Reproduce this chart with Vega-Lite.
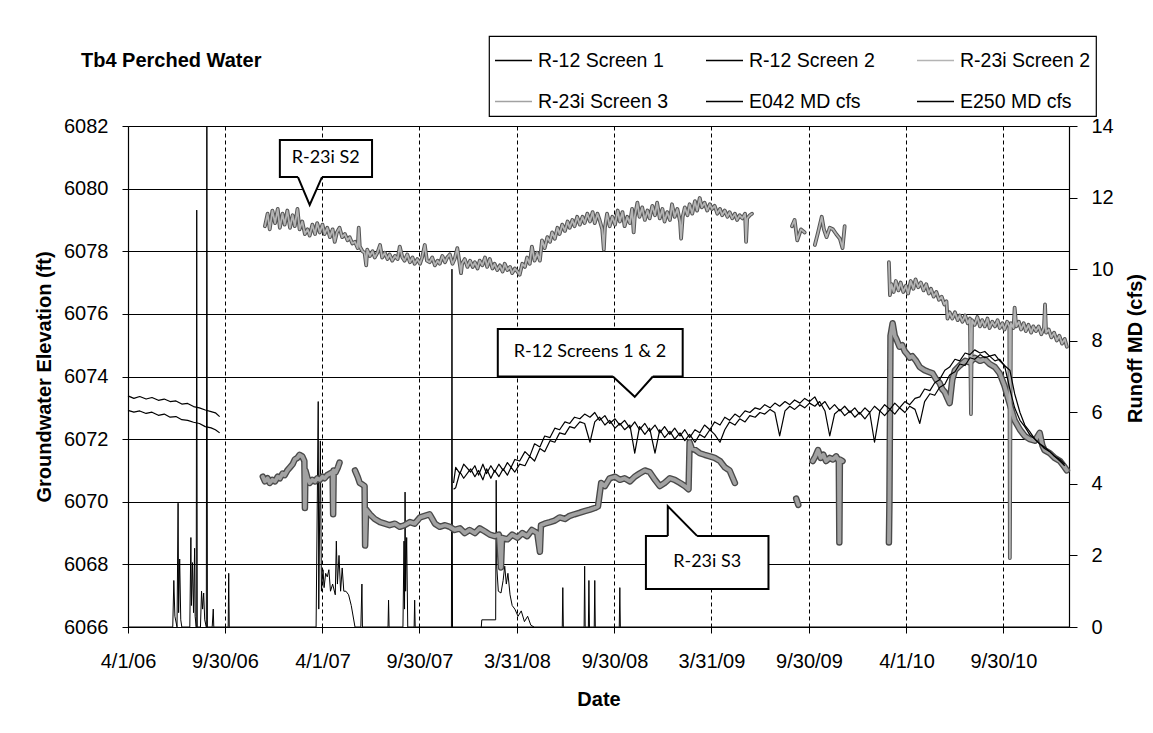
{
"$schema": "https://vega.github.io/schema/vega-lite/v6.json",
"width": 941,
"height": 501,
"autosize": {"type": "none"},
"padding": {"left": 128, "top": 126, "right": 84, "bottom": 106},
"background": "white",
"title": {"text": "Tb4 Perched  Water", "anchor": "start", "frame": "group", "dx": -47, "dy": 40, "font": "Liberation Sans", "fontSize": 20, "fontWeight": "bold", "color": "black"},
"config": {
  "view": {"stroke": null},
  "font": "Liberation Sans",
  "axis": {"labelFont": "Liberation Sans", "labelFontSize": 20, "labelColor": "black", "titleFont": "Liberation Sans", "titleFontSize": 20, "titleFontWeight": "bold", "titleColor": "black", "tickColor": "black", "tickWidth": 1, "domainColor": "black", "domainWidth": 1.2, "gridColor": "black", "gridOpacity": 1, "gridWidth": 1},
  "legend": {"labelFont": "Liberation Sans", "labelFontSize": 19.5, "labelColor": "black", "symbolType": "stroke", "symbolSize": 1369, "symbolStrokeWidth": 1.5, "columnPadding": 34, "rowPadding": 12, "padding": 5, "strokeColor": "black", "strokeWidth": 1.2, "fillColor": "white", "gridAlign": "all", "labelOffset": 5}
},
"datasets": {
"ro": [
{"series":"E042 MD cfs","date":"2006-04-01","v":0},
{"series":"E042 MD cfs","date":"2006-06-24","v":0},
{"series":"E042 MD cfs","date":"2006-06-26","v":1.3},
{"series":"E042 MD cfs","date":"2006-06-28","v":0.3},
{"series":"E042 MD cfs","date":"2006-07-02","v":0},
{"series":"E042 MD cfs","date":"2006-07-04","v":3.46},
{"series":"E042 MD cfs","date":"2006-07-05","v":0.4},
{"series":"E042 MD cfs","date":"2006-07-07","v":1.9},
{"series":"E042 MD cfs","date":"2006-07-09","v":0.2},
{"series":"E042 MD cfs","date":"2006-07-11","v":0},
{"series":"E042 MD cfs","date":"2006-07-26","v":0},
{"series":"E042 MD cfs","date":"2006-07-28","v":2.5},
{"series":"E042 MD cfs","date":"2006-07-29","v":0.6},
{"series":"E042 MD cfs","date":"2006-07-31","v":1.8},
{"series":"E042 MD cfs","date":"2006-08-02","v":0.4},
{"series":"E042 MD cfs","date":"2006-08-04","v":2.2},
{"series":"E042 MD cfs","date":"2006-08-05","v":0.3},
{"series":"E042 MD cfs","date":"2006-08-07","v":0},
{"series":"E042 MD cfs","date":"2006-08-08","v":11.65},
{"series":"E042 MD cfs","date":"2006-08-09","v":0},
{"series":"E042 MD cfs","date":"2006-08-15","v":0},
{"series":"E042 MD cfs","date":"2006-08-17","v":1.0},
{"series":"E042 MD cfs","date":"2006-08-19","v":0.5},
{"series":"E042 MD cfs","date":"2006-08-21","v":0.95},
{"series":"E042 MD cfs","date":"2006-08-23","v":0.2},
{"series":"E042 MD cfs","date":"2006-08-26","v":0},
{"series":"E042 MD cfs","date":"2006-08-27","v":15},
{"series":"E042 MD cfs","date":"2006-08-28","v":0},
{"series":"E042 MD cfs","date":"2006-09-06","v":0},
{"series":"E042 MD cfs","date":"2006-09-08","v":0.5},
{"series":"E042 MD cfs","date":"2006-09-09","v":0},
{"series":"E042 MD cfs","date":"2006-10-06","v":0},
{"series":"E042 MD cfs","date":"2006-10-07","v":1.5},
{"series":"E042 MD cfs","date":"2006-10-08","v":0},
{"series":"E042 MD cfs","date":"2007-03-20","v":0},
{"series":"E042 MD cfs","date":"2007-03-24","v":6.3},
{"series":"E042 MD cfs","date":"2007-03-25","v":0.5},
{"series":"E042 MD cfs","date":"2007-03-28","v":5.2},
{"series":"E042 MD cfs","date":"2007-03-30","v":1.0},
{"series":"E042 MD cfs","date":"2007-04-02","v":1.6},
{"series":"E042 MD cfs","date":"2007-04-04","v":1.1},
{"series":"E042 MD cfs","date":"2007-04-07","v":1.5},
{"series":"E042 MD cfs","date":"2007-04-10","v":1.4},
{"series":"E042 MD cfs","date":"2007-04-13","v":1.6},
{"series":"E042 MD cfs","date":"2007-04-16","v":1.0},
{"series":"E042 MD cfs","date":"2007-04-20","v":1.2},
{"series":"E042 MD cfs","date":"2007-04-25","v":0.9},
{"series":"E042 MD cfs","date":"2007-04-27","v":2.4},
{"series":"E042 MD cfs","date":"2007-04-29","v":1.2},
{"series":"E042 MD cfs","date":"2007-05-02","v":2.0},
{"series":"E042 MD cfs","date":"2007-05-05","v":1.0},
{"series":"E042 MD cfs","date":"2007-05-08","v":1.65},
{"series":"E042 MD cfs","date":"2007-05-11","v":1.0},
{"series":"E042 MD cfs","date":"2007-05-15","v":1.0},
{"series":"E042 MD cfs","date":"2007-05-20","v":0.9},
{"series":"E042 MD cfs","date":"2007-05-25","v":0.6},
{"series":"E042 MD cfs","date":"2007-06-01","v":0},
{"series":"E042 MD cfs","date":"2007-06-12","v":0},
{"series":"E042 MD cfs","date":"2007-06-14","v":1.2},
{"series":"E042 MD cfs","date":"2007-06-15","v":0},
{"series":"E042 MD cfs","date":"2007-08-02","v":0},
{"series":"E042 MD cfs","date":"2007-08-03","v":0.75},
{"series":"E042 MD cfs","date":"2007-08-04","v":0},
{"series":"E042 MD cfs","date":"2007-08-30","v":0},
{"series":"E042 MD cfs","date":"2007-09-01","v":2.4},
{"series":"E042 MD cfs","date":"2007-09-02","v":0.5},
{"series":"E042 MD cfs","date":"2007-09-03","v":3.77},
{"series":"E042 MD cfs","date":"2007-09-04","v":1.0},
{"series":"E042 MD cfs","date":"2007-09-06","v":2.5},
{"series":"E042 MD cfs","date":"2007-09-08","v":0},
{"series":"E042 MD cfs","date":"2007-09-20","v":0},
{"series":"E042 MD cfs","date":"2007-09-21","v":0.75},
{"series":"E042 MD cfs","date":"2007-09-22","v":0},
{"series":"E042 MD cfs","date":"2007-11-29","v":0},
{"series":"E042 MD cfs","date":"2007-11-30","v":10.0},
{"series":"E042 MD cfs","date":"2007-12-01","v":0},
{"series":"E042 MD cfs","date":"2008-06-24","v":0},
{"series":"E042 MD cfs","date":"2008-06-25","v":1.1},
{"series":"E042 MD cfs","date":"2008-06-26","v":0},
{"series":"E042 MD cfs","date":"2008-08-04","v":0},
{"series":"E042 MD cfs","date":"2008-08-05","v":1.7},
{"series":"E042 MD cfs","date":"2008-08-06","v":0},
{"series":"E042 MD cfs","date":"2008-08-12","v":0},
{"series":"E042 MD cfs","date":"2008-08-13","v":1.3},
{"series":"E042 MD cfs","date":"2008-08-14","v":0},
{"series":"E042 MD cfs","date":"2008-08-23","v":0},
{"series":"E042 MD cfs","date":"2008-08-24","v":1.3},
{"series":"E042 MD cfs","date":"2008-08-25","v":0},
{"series":"E042 MD cfs","date":"2008-10-09","v":0},
{"series":"E042 MD cfs","date":"2008-10-10","v":1.1},
{"series":"E042 MD cfs","date":"2008-10-11","v":0},
{"series":"E042 MD cfs","date":"2011-01-31","v":0},
{"series":"E250 MD cfs","date":"2008-01-24","v":0},
{"series":"E250 MD cfs","date":"2008-01-25","v":0.2},
{"series":"E250 MD cfs","date":"2008-02-20","v":0.2},
{"series":"E250 MD cfs","date":"2008-02-21","v":4.1},
{"series":"E250 MD cfs","date":"2008-02-22","v":1.7},
{"series":"E250 MD cfs","date":"2008-02-25","v":1.0},
{"series":"E250 MD cfs","date":"2008-03-01","v":0.95},
{"series":"E250 MD cfs","date":"2008-03-05","v":1.3},
{"series":"E250 MD cfs","date":"2008-03-08","v":1.7},
{"series":"E250 MD cfs","date":"2008-03-11","v":1.2},
{"series":"E250 MD cfs","date":"2008-03-14","v":1.5},
{"series":"E250 MD cfs","date":"2008-03-18","v":0.9},
{"series":"E250 MD cfs","date":"2008-03-22","v":0.6},
{"series":"E250 MD cfs","date":"2008-03-27","v":0.5},
{"series":"E250 MD cfs","date":"2008-04-02","v":0.3},
{"series":"E250 MD cfs","date":"2008-04-08","v":0.45},
{"series":"E250 MD cfs","date":"2008-04-14","v":0.15},
{"series":"E250 MD cfs","date":"2008-04-20","v":0.3},
{"series":"E250 MD cfs","date":"2008-04-26","v":0.05},
{"series":"E250 MD cfs","date":"2008-05-02","v":0}
],
"gw": [
{"series":"R-12 Screen 1","seg":"a","date":"2006-04-01","v":6073.38},
{"series":"R-12 Screen 1","seg":"a","date":"2006-04-12","v":6073.3},
{"series":"R-12 Screen 1","seg":"a","date":"2006-04-23","v":6073.36},
{"series":"R-12 Screen 1","seg":"a","date":"2006-05-05","v":6073.28},
{"series":"R-12 Screen 1","seg":"a","date":"2006-05-16","v":6073.33},
{"series":"R-12 Screen 1","seg":"a","date":"2006-05-28","v":6073.24},
{"series":"R-12 Screen 1","seg":"a","date":"2006-06-08","v":6073.28},
{"series":"R-12 Screen 1","seg":"a","date":"2006-06-19","v":6073.2},
{"series":"R-12 Screen 1","seg":"a","date":"2006-06-30","v":6073.22},
{"series":"R-12 Screen 1","seg":"a","date":"2006-07-11","v":6073.12},
{"series":"R-12 Screen 1","seg":"a","date":"2006-07-22","v":6073.14},
{"series":"R-12 Screen 1","seg":"a","date":"2006-08-02","v":6073.04},
{"series":"R-12 Screen 1","seg":"a","date":"2006-08-13","v":6073.0},
{"series":"R-12 Screen 1","seg":"a","date":"2006-08-24","v":6072.93},
{"series":"R-12 Screen 1","seg":"a","date":"2006-09-04","v":6072.88},
{"series":"R-12 Screen 1","seg":"a","date":"2006-09-12","v":6072.84},
{"series":"R-12 Screen 1","seg":"a","date":"2006-09-20","v":6072.72},
{"series":"R-12 Screen 2","seg":"a","date":"2006-04-01","v":6072.92},
{"series":"R-12 Screen 2","seg":"a","date":"2006-04-12","v":6072.86},
{"series":"R-12 Screen 2","seg":"a","date":"2006-04-23","v":6072.9},
{"series":"R-12 Screen 2","seg":"a","date":"2006-05-05","v":6072.82},
{"series":"R-12 Screen 2","seg":"a","date":"2006-05-16","v":6072.86},
{"series":"R-12 Screen 2","seg":"a","date":"2006-05-28","v":6072.76},
{"series":"R-12 Screen 2","seg":"a","date":"2006-06-08","v":6072.8},
{"series":"R-12 Screen 2","seg":"a","date":"2006-06-19","v":6072.7},
{"series":"R-12 Screen 2","seg":"a","date":"2006-06-30","v":6072.72},
{"series":"R-12 Screen 2","seg":"a","date":"2006-07-11","v":6072.62},
{"series":"R-12 Screen 2","seg":"a","date":"2006-07-22","v":6072.6},
{"series":"R-12 Screen 2","seg":"a","date":"2006-08-02","v":6072.54},
{"series":"R-12 Screen 2","seg":"a","date":"2006-08-13","v":6072.5},
{"series":"R-12 Screen 2","seg":"a","date":"2006-08-24","v":6072.4},
{"series":"R-12 Screen 2","seg":"a","date":"2006-09-04","v":6072.36},
{"series":"R-12 Screen 2","seg":"a","date":"2006-09-12","v":6072.3},
{"series":"R-12 Screen 2","seg":"a","date":"2006-09-20","v":6072.2},
{"series":"R-12 Screen 1","seg":"b","date":"2007-12-03","v":6070.6},
{"series":"R-12 Screen 1","seg":"b","date":"2007-12-07","v":6071.1},
{"series":"R-12 Screen 1","seg":"b","date":"2007-12-15","v":6070.9},
{"series":"R-12 Screen 1","seg":"b","date":"2007-12-22","v":6071.2},
{"series":"R-12 Screen 1","seg":"b","date":"2008-01-04","v":6070.95},
{"series":"R-12 Screen 1","seg":"b","date":"2008-01-12","v":6071.15},
{"series":"R-12 Screen 1","seg":"b","date":"2008-01-19","v":6070.85},
{"series":"R-12 Screen 1","seg":"b","date":"2008-01-27","v":6071.2},
{"series":"R-12 Screen 1","seg":"b","date":"2008-02-03","v":6070.9},
{"series":"R-12 Screen 1","seg":"b","date":"2008-02-11","v":6071.15},
{"series":"R-12 Screen 1","seg":"b","date":"2008-02-18","v":6070.95},
{"series":"R-12 Screen 1","seg":"b","date":"2008-02-26","v":6071.2},
{"series":"R-12 Screen 1","seg":"b","date":"2008-03-05","v":6071.0},
{"series":"R-12 Screen 1","seg":"b","date":"2008-03-13","v":6071.25},
{"series":"R-12 Screen 1","seg":"b","date":"2008-03-20","v":6071.1},
{"series":"R-12 Screen 1","seg":"b","date":"2008-03-27","v":6071.35},
{"series":"R-12 Screen 1","seg":"b","date":"2008-04-05","v":6071.3},
{"series":"R-12 Screen 1","seg":"b","date":"2008-04-15","v":6071.6},
{"series":"R-12 Screen 1","seg":"b","date":"2008-04-24","v":6071.45},
{"series":"R-12 Screen 1","seg":"b","date":"2008-05-03","v":6071.85},
{"series":"R-12 Screen 1","seg":"b","date":"2008-05-13","v":6071.75},
{"series":"R-12 Screen 1","seg":"b","date":"2008-05-22","v":6072.1},
{"series":"R-12 Screen 1","seg":"b","date":"2008-06-01","v":6072.05},
{"series":"R-12 Screen 1","seg":"b","date":"2008-06-10","v":6072.35},
{"series":"R-12 Screen 1","seg":"b","date":"2008-06-19","v":6072.3},
{"series":"R-12 Screen 1","seg":"b","date":"2008-06-29","v":6072.55},
{"series":"R-12 Screen 1","seg":"b","date":"2008-07-08","v":6072.5},
{"series":"R-12 Screen 1","seg":"b","date":"2008-07-17","v":6072.7},
{"series":"R-12 Screen 1","seg":"b","date":"2008-07-27","v":6072.65},
{"series":"R-12 Screen 1","seg":"b","date":"2008-08-05","v":6072.8},
{"series":"R-12 Screen 1","seg":"b","date":"2008-08-15","v":6072.7},
{"series":"R-12 Screen 1","seg":"b","date":"2008-08-24","v":6072.85},
{"series":"R-12 Screen 1","seg":"b","date":"2008-09-02","v":6072.6},
{"series":"R-12 Screen 1","seg":"b","date":"2008-09-12","v":6072.75},
{"series":"R-12 Screen 1","seg":"b","date":"2008-09-21","v":6072.5},
{"series":"R-12 Screen 1","seg":"b","date":"2008-10-01","v":6072.65},
{"series":"R-12 Screen 1","seg":"b","date":"2008-10-10","v":6072.45},
{"series":"R-12 Screen 1","seg":"b","date":"2008-10-19","v":6072.6},
{"series":"R-12 Screen 1","seg":"b","date":"2008-10-29","v":6072.35},
{"series":"R-12 Screen 1","seg":"b","date":"2008-11-07","v":6072.55},
{"series":"R-12 Screen 1","seg":"b","date":"2008-11-16","v":6072.3},
{"series":"R-12 Screen 1","seg":"b","date":"2008-11-26","v":6072.5},
{"series":"R-12 Screen 1","seg":"b","date":"2008-12-05","v":6072.25},
{"series":"R-12 Screen 1","seg":"b","date":"2008-12-15","v":6072.45},
{"series":"R-12 Screen 1","seg":"b","date":"2008-12-24","v":6072.2},
{"series":"R-12 Screen 1","seg":"b","date":"2009-01-02","v":6072.4},
{"series":"R-12 Screen 1","seg":"b","date":"2009-01-12","v":6072.15},
{"series":"R-12 Screen 1","seg":"b","date":"2009-01-21","v":6072.35},
{"series":"R-12 Screen 1","seg":"b","date":"2009-01-31","v":6072.1},
{"series":"R-12 Screen 1","seg":"b","date":"2009-02-09","v":6072.3},
{"series":"R-12 Screen 1","seg":"b","date":"2009-02-18","v":6072.05},
{"series":"R-12 Screen 1","seg":"b","date":"2009-02-28","v":6072.3},
{"series":"R-12 Screen 1","seg":"b","date":"2009-03-09","v":6072.2},
{"series":"R-12 Screen 1","seg":"b","date":"2009-03-18","v":6072.45},
{"series":"R-12 Screen 1","seg":"b","date":"2009-03-28","v":6072.3},
{"series":"R-12 Screen 1","seg":"b","date":"2009-04-06","v":6072.55},
{"series":"R-12 Screen 1","seg":"b","date":"2009-04-16","v":6072.45},
{"series":"R-12 Screen 1","seg":"b","date":"2009-04-25","v":6072.7},
{"series":"R-12 Screen 1","seg":"b","date":"2009-05-04","v":6072.6},
{"series":"R-12 Screen 1","seg":"b","date":"2009-05-14","v":6072.8},
{"series":"R-12 Screen 1","seg":"b","date":"2009-05-23","v":6072.7},
{"series":"R-12 Screen 1","seg":"b","date":"2009-06-02","v":6072.9},
{"series":"R-12 Screen 1","seg":"b","date":"2009-06-11","v":6072.85},
{"series":"R-12 Screen 1","seg":"b","date":"2009-06-21","v":6073.0},
{"series":"R-12 Screen 1","seg":"b","date":"2009-06-30","v":6072.95},
{"series":"R-12 Screen 1","seg":"b","date":"2009-07-09","v":6073.1},
{"series":"R-12 Screen 1","seg":"b","date":"2009-07-19","v":6073.0},
{"series":"R-12 Screen 1","seg":"b","date":"2009-07-28","v":6073.15},
{"series":"R-12 Screen 1","seg":"b","date":"2009-08-06","v":6073.05},
{"series":"R-12 Screen 1","seg":"b","date":"2009-08-16","v":6073.2},
{"series":"R-12 Screen 1","seg":"b","date":"2009-08-25","v":6073.1},
{"series":"R-12 Screen 1","seg":"b","date":"2009-09-03","v":6073.25},
{"series":"R-12 Screen 1","seg":"b","date":"2009-09-13","v":6073.15},
{"series":"R-12 Screen 1","seg":"b","date":"2009-09-22","v":6073.3},
{"series":"R-12 Screen 1","seg":"b","date":"2009-10-01","v":6073.2},
{"series":"R-12 Screen 1","seg":"b","date":"2009-10-11","v":6073.35},
{"series":"R-12 Screen 1","seg":"b","date":"2009-10-20","v":6073.05},
{"series":"R-12 Screen 1","seg":"b","date":"2009-10-30","v":6073.2},
{"series":"R-12 Screen 1","seg":"b","date":"2009-11-08","v":6072.95},
{"series":"R-12 Screen 1","seg":"b","date":"2009-11-17","v":6073.1},
{"series":"R-12 Screen 1","seg":"b","date":"2009-11-27","v":6072.9},
{"series":"R-12 Screen 1","seg":"b","date":"2009-12-06","v":6073.05},
{"series":"R-12 Screen 1","seg":"b","date":"2009-12-16","v":6072.85},
{"series":"R-12 Screen 1","seg":"b","date":"2009-12-25","v":6073.0},
{"series":"R-12 Screen 1","seg":"b","date":"2010-01-03","v":6072.8},
{"series":"R-12 Screen 1","seg":"b","date":"2010-01-13","v":6073.0},
{"series":"R-12 Screen 1","seg":"b","date":"2010-01-22","v":6072.85},
{"series":"R-12 Screen 1","seg":"b","date":"2010-01-31","v":6073.05},
{"series":"R-12 Screen 1","seg":"b","date":"2010-02-10","v":6072.9},
{"series":"R-12 Screen 1","seg":"b","date":"2010-02-19","v":6073.1},
{"series":"R-12 Screen 1","seg":"b","date":"2010-03-01","v":6072.95},
{"series":"R-12 Screen 1","seg":"b","date":"2010-03-10","v":6073.15},
{"series":"R-12 Screen 1","seg":"b","date":"2010-03-19","v":6073.0},
{"series":"R-12 Screen 1","seg":"b","date":"2010-03-29","v":6073.2},
{"series":"R-12 Screen 1","seg":"b","date":"2010-04-07","v":6073.1},
{"series":"R-12 Screen 1","seg":"b","date":"2010-04-17","v":6073.3},
{"series":"R-12 Screen 1","seg":"b","date":"2010-04-26","v":6073.35},
{"series":"R-12 Screen 1","seg":"b","date":"2010-05-05","v":6073.6},
{"series":"R-12 Screen 1","seg":"b","date":"2010-05-15","v":6073.55},
{"series":"R-12 Screen 1","seg":"b","date":"2010-05-24","v":6073.8},
{"series":"R-12 Screen 1","seg":"b","date":"2010-06-02","v":6073.9},
{"series":"R-12 Screen 1","seg":"b","date":"2010-06-12","v":6074.2},
{"series":"R-12 Screen 1","seg":"b","date":"2010-06-21","v":6074.3},
{"series":"R-12 Screen 1","seg":"b","date":"2010-07-01","v":6074.55},
{"series":"R-12 Screen 1","seg":"b","date":"2010-07-10","v":6074.5},
{"series":"R-12 Screen 1","seg":"b","date":"2010-07-20","v":6074.75},
{"series":"R-12 Screen 1","seg":"b","date":"2010-07-29","v":6074.7},
{"series":"R-12 Screen 1","seg":"b","date":"2010-08-07","v":6074.85},
{"series":"R-12 Screen 1","seg":"b","date":"2010-08-17","v":6074.75},
{"series":"R-12 Screen 1","seg":"b","date":"2010-08-26","v":6074.8},
{"series":"R-12 Screen 1","seg":"b","date":"2010-09-04","v":6074.65},
{"series":"R-12 Screen 1","seg":"b","date":"2010-09-14","v":6074.7},
{"series":"R-12 Screen 1","seg":"b","date":"2010-09-23","v":6074.5},
{"series":"R-12 Screen 1","seg":"b","date":"2010-10-02","v":6074.35},
{"series":"R-12 Screen 1","seg":"b","date":"2010-10-12","v":6073.6},
{"series":"R-12 Screen 1","seg":"b","date":"2010-10-21","v":6073.0},
{"series":"R-12 Screen 1","seg":"b","date":"2010-10-31","v":6072.6},
{"series":"R-12 Screen 1","seg":"b","date":"2010-11-09","v":6072.4},
{"series":"R-12 Screen 1","seg":"b","date":"2010-11-18","v":6072.15},
{"series":"R-12 Screen 1","seg":"b","date":"2010-11-28","v":6072.0},
{"series":"R-12 Screen 1","seg":"b","date":"2010-12-07","v":6071.85},
{"series":"R-12 Screen 1","seg":"b","date":"2010-12-16","v":6071.75},
{"series":"R-12 Screen 1","seg":"b","date":"2010-12-26","v":6071.6},
{"series":"R-12 Screen 1","seg":"b","date":"2011-01-04","v":6071.45},
{"series":"R-12 Screen 1","seg":"b","date":"2011-01-14","v":6071.35},
{"series":"R-12 Screen 1","seg":"b","date":"2011-01-23","v":6071.2},
{"series":"R-12 Screen 2","seg":"b","date":"2007-12-03","v":6070.4},
{"series":"R-12 Screen 2","seg":"b","date":"2007-12-07","v":6070.45},
{"series":"R-12 Screen 2","seg":"b","date":"2007-12-15","v":6070.95},
{"series":"R-12 Screen 2","seg":"b","date":"2007-12-22","v":6070.75},
{"series":"R-12 Screen 2","seg":"b","date":"2008-01-04","v":6071.05},
{"series":"R-12 Screen 2","seg":"b","date":"2008-01-12","v":6070.8},
{"series":"R-12 Screen 2","seg":"b","date":"2008-01-19","v":6071.0},
{"series":"R-12 Screen 2","seg":"b","date":"2008-01-27","v":6070.7},
{"series":"R-12 Screen 2","seg":"b","date":"2008-02-03","v":6071.05},
{"series":"R-12 Screen 2","seg":"b","date":"2008-02-11","v":6070.75},
{"series":"R-12 Screen 2","seg":"b","date":"2008-02-18","v":6071.0},
{"series":"R-12 Screen 2","seg":"b","date":"2008-02-26","v":6070.8},
{"series":"R-12 Screen 2","seg":"b","date":"2008-03-05","v":6071.05},
{"series":"R-12 Screen 2","seg":"b","date":"2008-03-13","v":6070.85},
{"series":"R-12 Screen 2","seg":"b","date":"2008-03-20","v":6071.1},
{"series":"R-12 Screen 2","seg":"b","date":"2008-03-27","v":6070.95},
{"series":"R-12 Screen 2","seg":"b","date":"2008-04-05","v":6071.2},
{"series":"R-12 Screen 2","seg":"b","date":"2008-04-15","v":6071.15},
{"series":"R-12 Screen 2","seg":"b","date":"2008-04-24","v":6071.45},
{"series":"R-12 Screen 2","seg":"b","date":"2008-05-03","v":6071.3},
{"series":"R-12 Screen 2","seg":"b","date":"2008-05-13","v":6071.7},
{"series":"R-12 Screen 2","seg":"b","date":"2008-05-22","v":6071.6},
{"series":"R-12 Screen 2","seg":"b","date":"2008-06-01","v":6071.95},
{"series":"R-12 Screen 2","seg":"b","date":"2008-06-10","v":6071.9},
{"series":"R-12 Screen 2","seg":"b","date":"2008-06-19","v":6072.2},
{"series":"R-12 Screen 2","seg":"b","date":"2008-06-29","v":6072.15},
{"series":"R-12 Screen 2","seg":"b","date":"2008-07-08","v":6072.4},
{"series":"R-12 Screen 2","seg":"b","date":"2008-07-17","v":6072.35},
{"series":"R-12 Screen 2","seg":"b","date":"2008-07-27","v":6072.55},
{"series":"R-12 Screen 2","seg":"b","date":"2008-08-05","v":6072.5},
{"series":"R-12 Screen 2","seg":"b","date":"2008-08-15","v":6071.9},
{"series":"R-12 Screen 2","seg":"b","date":"2008-08-24","v":6072.55},
{"series":"R-12 Screen 2","seg":"b","date":"2008-09-02","v":6072.7},
{"series":"R-12 Screen 2","seg":"b","date":"2008-09-12","v":6072.45},
{"series":"R-12 Screen 2","seg":"b","date":"2008-09-21","v":6072.6},
{"series":"R-12 Screen 2","seg":"b","date":"2008-10-01","v":6072.35},
{"series":"R-12 Screen 2","seg":"b","date":"2008-10-10","v":6072.5},
{"series":"R-12 Screen 2","seg":"b","date":"2008-10-19","v":6072.3},
{"series":"R-12 Screen 2","seg":"b","date":"2008-10-29","v":6072.45},
{"series":"R-12 Screen 2","seg":"b","date":"2008-11-07","v":6071.55},
{"series":"R-12 Screen 2","seg":"b","date":"2008-11-16","v":6072.4},
{"series":"R-12 Screen 2","seg":"b","date":"2008-11-26","v":6072.15},
{"series":"R-12 Screen 2","seg":"b","date":"2008-12-05","v":6072.35},
{"series":"R-12 Screen 2","seg":"b","date":"2008-12-15","v":6071.55},
{"series":"R-12 Screen 2","seg":"b","date":"2008-12-24","v":6072.3},
{"series":"R-12 Screen 2","seg":"b","date":"2009-01-02","v":6072.05},
{"series":"R-12 Screen 2","seg":"b","date":"2009-01-12","v":6072.25},
{"series":"R-12 Screen 2","seg":"b","date":"2009-01-21","v":6072.0},
{"series":"R-12 Screen 2","seg":"b","date":"2009-01-31","v":6072.2},
{"series":"R-12 Screen 2","seg":"b","date":"2009-02-09","v":6071.95},
{"series":"R-12 Screen 2","seg":"b","date":"2009-02-18","v":6072.15},
{"series":"R-12 Screen 2","seg":"b","date":"2009-02-28","v":6071.9},
{"series":"R-12 Screen 2","seg":"b","date":"2009-03-09","v":6072.15},
{"series":"R-12 Screen 2","seg":"b","date":"2009-03-18","v":6072.05},
{"series":"R-12 Screen 2","seg":"b","date":"2009-03-28","v":6072.3},
{"series":"R-12 Screen 2","seg":"b","date":"2009-04-06","v":6072.15},
{"series":"R-12 Screen 2","seg":"b","date":"2009-04-16","v":6071.9},
{"series":"R-12 Screen 2","seg":"b","date":"2009-04-25","v":6072.3},
{"series":"R-12 Screen 2","seg":"b","date":"2009-05-04","v":6072.55},
{"series":"R-12 Screen 2","seg":"b","date":"2009-05-14","v":6072.45},
{"series":"R-12 Screen 2","seg":"b","date":"2009-05-23","v":6072.65},
{"series":"R-12 Screen 2","seg":"b","date":"2009-06-02","v":6072.55},
{"series":"R-12 Screen 2","seg":"b","date":"2009-06-11","v":6072.75},
{"series":"R-12 Screen 2","seg":"b","date":"2009-06-21","v":6072.7},
{"series":"R-12 Screen 2","seg":"b","date":"2009-06-30","v":6072.85},
{"series":"R-12 Screen 2","seg":"b","date":"2009-07-09","v":6072.8},
{"series":"R-12 Screen 2","seg":"b","date":"2009-07-19","v":6072.95},
{"series":"R-12 Screen 2","seg":"b","date":"2009-07-28","v":6072.85},
{"series":"R-12 Screen 2","seg":"b","date":"2009-08-06","v":6072.1},
{"series":"R-12 Screen 2","seg":"b","date":"2009-08-16","v":6072.9},
{"series":"R-12 Screen 2","seg":"b","date":"2009-08-25","v":6073.05},
{"series":"R-12 Screen 2","seg":"b","date":"2009-09-03","v":6072.95},
{"series":"R-12 Screen 2","seg":"b","date":"2009-09-13","v":6073.1},
{"series":"R-12 Screen 2","seg":"b","date":"2009-09-22","v":6073.0},
{"series":"R-12 Screen 2","seg":"b","date":"2009-10-01","v":6073.15},
{"series":"R-12 Screen 2","seg":"b","date":"2009-10-11","v":6073.05},
{"series":"R-12 Screen 2","seg":"b","date":"2009-10-20","v":6073.2},
{"series":"R-12 Screen 2","seg":"b","date":"2009-10-30","v":6072.9},
{"series":"R-12 Screen 2","seg":"b","date":"2009-11-08","v":6072.1},
{"series":"R-12 Screen 2","seg":"b","date":"2009-11-17","v":6072.8},
{"series":"R-12 Screen 2","seg":"b","date":"2009-11-27","v":6072.95},
{"series":"R-12 Screen 2","seg":"b","date":"2009-12-06","v":6072.75},
{"series":"R-12 Screen 2","seg":"b","date":"2009-12-16","v":6072.9},
{"series":"R-12 Screen 2","seg":"b","date":"2009-12-25","v":6072.7},
{"series":"R-12 Screen 2","seg":"b","date":"2010-01-03","v":6072.85},
{"series":"R-12 Screen 2","seg":"b","date":"2010-01-13","v":6072.65},
{"series":"R-12 Screen 2","seg":"b","date":"2010-01-22","v":6072.85},
{"series":"R-12 Screen 2","seg":"b","date":"2010-01-31","v":6071.9},
{"series":"R-12 Screen 2","seg":"b","date":"2010-02-10","v":6072.9},
{"series":"R-12 Screen 2","seg":"b","date":"2010-02-19","v":6072.75},
{"series":"R-12 Screen 2","seg":"b","date":"2010-03-01","v":6072.95},
{"series":"R-12 Screen 2","seg":"b","date":"2010-03-10","v":6072.8},
{"series":"R-12 Screen 2","seg":"b","date":"2010-03-19","v":6073.0},
{"series":"R-12 Screen 2","seg":"b","date":"2010-03-29","v":6072.85},
{"series":"R-12 Screen 2","seg":"b","date":"2010-04-07","v":6073.05},
{"series":"R-12 Screen 2","seg":"b","date":"2010-04-17","v":6072.95},
{"series":"R-12 Screen 2","seg":"b","date":"2010-04-26","v":6072.5},
{"series":"R-12 Screen 2","seg":"b","date":"2010-05-05","v":6073.2},
{"series":"R-12 Screen 2","seg":"b","date":"2010-05-15","v":6073.45},
{"series":"R-12 Screen 2","seg":"b","date":"2010-05-24","v":6073.4},
{"series":"R-12 Screen 2","seg":"b","date":"2010-06-02","v":6073.65},
{"series":"R-12 Screen 2","seg":"b","date":"2010-06-12","v":6073.75},
{"series":"R-12 Screen 2","seg":"b","date":"2010-06-21","v":6074.05},
{"series":"R-12 Screen 2","seg":"b","date":"2010-07-01","v":6074.15},
{"series":"R-12 Screen 2","seg":"b","date":"2010-07-10","v":6074.4},
{"series":"R-12 Screen 2","seg":"b","date":"2010-07-20","v":6074.35},
{"series":"R-12 Screen 2","seg":"b","date":"2010-07-29","v":6074.6},
{"series":"R-12 Screen 2","seg":"b","date":"2010-08-07","v":6074.55},
{"series":"R-12 Screen 2","seg":"b","date":"2010-08-17","v":6074.7},
{"series":"R-12 Screen 2","seg":"b","date":"2010-08-26","v":6074.6},
{"series":"R-12 Screen 2","seg":"b","date":"2010-09-04","v":6074.65},
{"series":"R-12 Screen 2","seg":"b","date":"2010-09-14","v":6074.5},
{"series":"R-12 Screen 2","seg":"b","date":"2010-09-23","v":6074.55},
{"series":"R-12 Screen 2","seg":"b","date":"2010-10-02","v":6074.35},
{"series":"R-12 Screen 2","seg":"b","date":"2010-10-12","v":6074.2},
{"series":"R-12 Screen 2","seg":"b","date":"2010-10-21","v":6073.45},
{"series":"R-12 Screen 2","seg":"b","date":"2010-10-31","v":6072.85},
{"series":"R-12 Screen 2","seg":"b","date":"2010-11-09","v":6072.45},
{"series":"R-12 Screen 2","seg":"b","date":"2010-11-18","v":6072.25},
{"series":"R-12 Screen 2","seg":"b","date":"2010-11-28","v":6072.0},
{"series":"R-12 Screen 2","seg":"b","date":"2010-12-07","v":6071.85},
{"series":"R-12 Screen 2","seg":"b","date":"2010-12-16","v":6071.7},
{"series":"R-12 Screen 2","seg":"b","date":"2010-12-26","v":6071.6},
{"series":"R-12 Screen 2","seg":"b","date":"2011-01-04","v":6071.45},
{"series":"R-12 Screen 2","seg":"b","date":"2011-01-14","v":6071.3},
{"series":"R-12 Screen 2","seg":"b","date":"2011-01-23","v":6071.15},
{"series":"R-23i Screen 3","seg":"a","date":"2006-12-10","v":6070.8},
{"series":"R-23i Screen 3","seg":"a","date":"2006-12-14","v":6070.65},
{"series":"R-23i Screen 3","seg":"a","date":"2006-12-19","v":6070.75},
{"series":"R-23i Screen 3","seg":"a","date":"2006-12-23","v":6070.6},
{"series":"R-23i Screen 3","seg":"a","date":"2006-12-28","v":6070.7},
{"series":"R-23i Screen 3","seg":"a","date":"2007-01-02","v":6070.65},
{"series":"R-23i Screen 3","seg":"a","date":"2007-01-07","v":6070.8},
{"series":"R-23i Screen 3","seg":"a","date":"2007-01-11","v":6070.75},
{"series":"R-23i Screen 3","seg":"a","date":"2007-01-16","v":6070.9},
{"series":"R-23i Screen 3","seg":"a","date":"2007-01-20","v":6070.85},
{"series":"R-23i Screen 3","seg":"a","date":"2007-01-25","v":6071.0},
{"series":"R-23i Screen 3","seg":"a","date":"2007-01-30","v":6071.1},
{"series":"R-23i Screen 3","seg":"a","date":"2007-02-04","v":6071.2},
{"series":"R-23i Screen 3","seg":"a","date":"2007-02-08","v":6071.35},
{"series":"R-23i Screen 3","seg":"a","date":"2007-02-13","v":6071.4},
{"series":"R-23i Screen 3","seg":"a","date":"2007-02-17","v":6071.5},
{"series":"R-23i Screen 3","seg":"a","date":"2007-02-22","v":6071.45},
{"series":"R-23i Screen 3","seg":"a","date":"2007-02-26","v":6071.3},
{"series":"R-23i Screen 3","seg":"a","date":"2007-02-27","v":6069.8},
{"series":"R-23i Screen 3","seg":"a","date":"2007-02-28","v":6071.0},
{"series":"R-23i Screen 3","seg":"a","date":"2007-03-04","v":6070.75},
{"series":"R-23i Screen 3","seg":"a","date":"2007-03-08","v":6070.6},
{"series":"R-23i Screen 3","seg":"a","date":"2007-03-13","v":6070.7},
{"series":"R-23i Screen 3","seg":"a","date":"2007-03-18","v":6070.65},
{"series":"R-23i Screen 3","seg":"a","date":"2007-03-22","v":6070.75},
{"series":"R-23i Screen 3","seg":"a","date":"2007-03-27","v":6070.7},
{"series":"R-23i Screen 3","seg":"a","date":"2007-04-01","v":6070.8},
{"series":"R-23i Screen 3","seg":"a","date":"2007-04-05","v":6070.75},
{"series":"R-23i Screen 3","seg":"a","date":"2007-04-10","v":6070.85},
{"series":"R-23i Screen 3","seg":"a","date":"2007-04-15","v":6070.9},
{"series":"R-23i Screen 3","seg":"a","date":"2007-04-20","v":6070.95},
{"series":"R-23i Screen 3","seg":"a","date":"2007-04-21","v":6069.6},
{"series":"R-23i Screen 3","seg":"a","date":"2007-04-22","v":6071.0},
{"series":"R-23i Screen 3","seg":"a","date":"2007-04-26","v":6070.95},
{"series":"R-23i Screen 3","seg":"a","date":"2007-04-30","v":6071.1},
{"series":"R-23i Screen 3","seg":"a","date":"2007-05-03","v":6071.25},
{"series":"R-23i Screen 3","seg":"b","date":"2007-06-01","v":6071.0},
{"series":"R-23i Screen 3","seg":"b","date":"2007-06-06","v":6070.8},
{"series":"R-23i Screen 3","seg":"b","date":"2007-06-10","v":6070.6},
{"series":"R-23i Screen 3","seg":"b","date":"2007-06-15","v":6070.55},
{"series":"R-23i Screen 3","seg":"b","date":"2007-06-19","v":6070.5},
{"series":"R-23i Screen 3","seg":"b","date":"2007-06-20","v":6068.6},
{"series":"R-23i Screen 3","seg":"b","date":"2007-06-22","v":6069.75},
{"series":"R-23i Screen 3","seg":"b","date":"2007-06-29","v":6069.6},
{"series":"R-23i Screen 3","seg":"b","date":"2007-07-08","v":6069.45},
{"series":"R-23i Screen 3","seg":"b","date":"2007-07-18","v":6069.35},
{"series":"R-23i Screen 3","seg":"b","date":"2007-07-27","v":6069.3},
{"series":"R-23i Screen 3","seg":"b","date":"2007-08-05","v":6069.25},
{"series":"R-23i Screen 3","seg":"b","date":"2007-08-15","v":6069.3},
{"series":"R-23i Screen 3","seg":"b","date":"2007-08-24","v":6069.2},
{"series":"R-23i Screen 3","seg":"b","date":"2007-09-02","v":6069.25},
{"series":"R-23i Screen 3","seg":"b","date":"2007-09-12","v":6069.35},
{"series":"R-23i Screen 3","seg":"b","date":"2007-09-21","v":6069.3},
{"series":"R-23i Screen 3","seg":"b","date":"2007-10-01","v":6069.5},
{"series":"R-23i Screen 3","seg":"b","date":"2007-10-10","v":6069.55},
{"series":"R-23i Screen 3","seg":"b","date":"2007-10-19","v":6069.6},
{"series":"R-23i Screen 3","seg":"b","date":"2007-10-24","v":6069.45},
{"series":"R-23i Screen 3","seg":"b","date":"2007-10-29","v":6069.3},
{"series":"R-23i Screen 3","seg":"b","date":"2007-11-07","v":6069.2},
{"series":"R-23i Screen 3","seg":"b","date":"2007-11-17","v":6069.25},
{"series":"R-23i Screen 3","seg":"b","date":"2007-11-26","v":6069.2},
{"series":"R-23i Screen 3","seg":"b","date":"2007-12-05","v":6069.1},
{"series":"R-23i Screen 3","seg":"b","date":"2007-12-15","v":6069.15},
{"series":"R-23i Screen 3","seg":"b","date":"2007-12-24","v":6069.0},
{"series":"R-23i Screen 3","seg":"b","date":"2008-01-02","v":6069.1},
{"series":"R-23i Screen 3","seg":"b","date":"2008-01-12","v":6069.0},
{"series":"R-23i Screen 3","seg":"b","date":"2008-01-21","v":6069.15},
{"series":"R-23i Screen 3","seg":"b","date":"2008-01-31","v":6069.05},
{"series":"R-23i Screen 3","seg":"b","date":"2008-02-09","v":6068.95},
{"series":"R-23i Screen 3","seg":"b","date":"2008-02-18","v":6068.9},
{"series":"R-23i Screen 3","seg":"b","date":"2008-02-26","v":6068.95},
{"series":"R-23i Screen 3","seg":"b","date":"2008-03-01","v":6067.9},
{"series":"R-23i Screen 3","seg":"b","date":"2008-03-03","v":6068.85},
{"series":"R-23i Screen 3","seg":"b","date":"2008-03-13","v":6068.8},
{"series":"R-23i Screen 3","seg":"b","date":"2008-03-22","v":6068.95},
{"series":"R-23i Screen 3","seg":"b","date":"2008-04-01","v":6068.85},
{"series":"R-23i Screen 3","seg":"b","date":"2008-04-10","v":6069.0},
{"series":"R-23i Screen 3","seg":"b","date":"2008-04-19","v":6068.9},
{"series":"R-23i Screen 3","seg":"b","date":"2008-04-28","v":6069.1},
{"series":"R-23i Screen 3","seg":"b","date":"2008-05-08","v":6069.0},
{"series":"R-23i Screen 3","seg":"b","date":"2008-05-13","v":6068.4},
{"series":"R-23i Screen 3","seg":"b","date":"2008-05-15","v":6069.25},
{"series":"R-23i Screen 3","seg":"b","date":"2008-05-22","v":6069.3},
{"series":"R-23i Screen 3","seg":"b","date":"2008-06-01","v":6069.35},
{"series":"R-23i Screen 3","seg":"b","date":"2008-06-10","v":6069.4},
{"series":"R-23i Screen 3","seg":"b","date":"2008-06-19","v":6069.5},
{"series":"R-23i Screen 3","seg":"b","date":"2008-06-29","v":6069.45},
{"series":"R-23i Screen 3","seg":"b","date":"2008-07-08","v":6069.55},
{"series":"R-23i Screen 3","seg":"b","date":"2008-07-17","v":6069.6},
{"series":"R-23i Screen 3","seg":"b","date":"2008-07-27","v":6069.65},
{"series":"R-23i Screen 3","seg":"b","date":"2008-08-05","v":6069.7},
{"series":"R-23i Screen 3","seg":"b","date":"2008-08-15","v":6069.75},
{"series":"R-23i Screen 3","seg":"b","date":"2008-08-24","v":6069.8},
{"series":"R-23i Screen 3","seg":"b","date":"2008-08-30","v":6069.85},
{"series":"R-23i Screen 3","seg":"b","date":"2008-09-05","v":6070.6},
{"series":"R-23i Screen 3","seg":"b","date":"2008-09-12","v":6070.5},
{"series":"R-23i Screen 3","seg":"b","date":"2008-09-21","v":6070.75},
{"series":"R-23i Screen 3","seg":"b","date":"2008-10-01","v":6070.8},
{"series":"R-23i Screen 3","seg":"b","date":"2008-10-10","v":6070.7},
{"series":"R-23i Screen 3","seg":"b","date":"2008-10-19","v":6070.75},
{"series":"R-23i Screen 3","seg":"b","date":"2008-10-29","v":6070.65},
{"series":"R-23i Screen 3","seg":"b","date":"2008-11-07","v":6070.8},
{"series":"R-23i Screen 3","seg":"b","date":"2008-11-16","v":6070.9},
{"series":"R-23i Screen 3","seg":"b","date":"2008-11-26","v":6071.0},
{"series":"R-23i Screen 3","seg":"b","date":"2008-12-05","v":6070.95},
{"series":"R-23i Screen 3","seg":"b","date":"2008-12-15","v":6070.7},
{"series":"R-23i Screen 3","seg":"b","date":"2008-12-24","v":6070.5},
{"series":"R-23i Screen 3","seg":"b","date":"2009-01-02","v":6070.6},
{"series":"R-23i Screen 3","seg":"b","date":"2009-01-12","v":6070.75},
{"series":"R-23i Screen 3","seg":"b","date":"2009-01-21","v":6070.7},
{"series":"R-23i Screen 3","seg":"b","date":"2009-01-31","v":6070.6},
{"series":"R-23i Screen 3","seg":"b","date":"2009-02-09","v":6070.5},
{"series":"R-23i Screen 3","seg":"b","date":"2009-02-16","v":6070.4},
{"series":"R-23i Screen 3","seg":"b","date":"2009-02-18","v":6071.9},
{"series":"R-23i Screen 3","seg":"b","date":"2009-02-22","v":6071.7},
{"series":"R-23i Screen 3","seg":"b","date":"2009-03-01","v":6071.65},
{"series":"R-23i Screen 3","seg":"b","date":"2009-03-09","v":6071.55},
{"series":"R-23i Screen 3","seg":"b","date":"2009-03-18","v":6071.5},
{"series":"R-23i Screen 3","seg":"b","date":"2009-03-28","v":6071.45},
{"series":"R-23i Screen 3","seg":"b","date":"2009-04-06","v":6071.4},
{"series":"R-23i Screen 3","seg":"b","date":"2009-04-16","v":6071.3},
{"series":"R-23i Screen 3","seg":"b","date":"2009-04-25","v":6071.1},
{"series":"R-23i Screen 3","seg":"b","date":"2009-05-04","v":6071.0},
{"series":"R-23i Screen 3","seg":"b","date":"2009-05-14","v":6070.6},
{"series":"R-23i Screen 3","seg":"c","date":"2009-09-06","v":6070.1},
{"series":"R-23i Screen 3","seg":"c","date":"2009-09-10","v":6069.9},
{"series":"R-23i Screen 3","seg":"d","date":"2009-10-07","v":6071.3},
{"series":"R-23i Screen 3","seg":"d","date":"2009-10-12","v":6071.45},
{"series":"R-23i Screen 3","seg":"d","date":"2009-10-17","v":6071.65},
{"series":"R-23i Screen 3","seg":"d","date":"2009-10-22","v":6071.4},
{"series":"R-23i Screen 3","seg":"d","date":"2009-10-27","v":6071.5},
{"series":"R-23i Screen 3","seg":"d","date":"2009-11-01","v":6071.3},
{"series":"R-23i Screen 3","seg":"d","date":"2009-11-08","v":6071.4},
{"series":"R-23i Screen 3","seg":"d","date":"2009-11-14","v":6071.35},
{"series":"R-23i Screen 3","seg":"d","date":"2009-11-20","v":6071.45},
{"series":"R-23i Screen 3","seg":"d","date":"2009-11-25","v":6071.3},
{"series":"R-23i Screen 3","seg":"d","date":"2009-11-26","v":6068.7},
{"series":"R-23i Screen 3","seg":"d","date":"2009-11-27","v":6071.35},
{"series":"R-23i Screen 3","seg":"d","date":"2009-12-02","v":6071.3},
{"series":"R-23i Screen 3","seg":"e","date":"2010-02-27","v":6068.7},
{"series":"R-23i Screen 3","seg":"e","date":"2010-02-28","v":6070.0},
{"series":"R-23i Screen 3","seg":"e","date":"2010-03-02","v":6075.3},
{"series":"R-23i Screen 3","seg":"e","date":"2010-03-06","v":6075.7},
{"series":"R-23i Screen 3","seg":"e","date":"2010-03-10","v":6075.3},
{"series":"R-23i Screen 3","seg":"e","date":"2010-03-13","v":6075.2},
{"series":"R-23i Screen 3","seg":"e","date":"2010-03-19","v":6074.95},
{"series":"R-23i Screen 3","seg":"e","date":"2010-03-24","v":6075.0},
{"series":"R-23i Screen 3","seg":"e","date":"2010-03-29","v":6074.8},
{"series":"R-23i Screen 3","seg":"e","date":"2010-04-03","v":6074.7},
{"series":"R-23i Screen 3","seg":"e","date":"2010-04-07","v":6074.6},
{"series":"R-23i Screen 3","seg":"e","date":"2010-04-12","v":6074.65},
{"series":"R-23i Screen 3","seg":"e","date":"2010-04-19","v":6074.5},
{"series":"R-23i Screen 3","seg":"e","date":"2010-04-26","v":6074.3},
{"series":"R-23i Screen 3","seg":"e","date":"2010-05-05","v":6074.2},
{"series":"R-23i Screen 3","seg":"e","date":"2010-05-12","v":6074.15},
{"series":"R-23i Screen 3","seg":"e","date":"2010-05-20","v":6074.1},
{"series":"R-23i Screen 3","seg":"e","date":"2010-05-27","v":6073.9},
{"series":"R-23i Screen 3","seg":"e","date":"2010-06-02","v":6073.8},
{"series":"R-23i Screen 3","seg":"e","date":"2010-06-07","v":6073.6},
{"series":"R-23i Screen 3","seg":"e","date":"2010-06-12","v":6073.5},
{"series":"R-23i Screen 3","seg":"e","date":"2010-06-17","v":6073.3},
{"series":"R-23i Screen 3","seg":"e","date":"2010-06-21","v":6073.15},
{"series":"R-23i Screen 3","seg":"e","date":"2010-06-26","v":6073.9},
{"series":"R-23i Screen 3","seg":"e","date":"2010-07-01","v":6074.2},
{"series":"R-23i Screen 3","seg":"e","date":"2010-07-10","v":6074.35},
{"series":"R-23i Screen 3","seg":"e","date":"2010-07-20","v":6074.5},
{"series":"R-23i Screen 3","seg":"e","date":"2010-07-29","v":6074.45},
{"series":"R-23i Screen 3","seg":"e","date":"2010-08-07","v":6074.6},
{"series":"R-23i Screen 3","seg":"e","date":"2010-08-17","v":6074.5},
{"series":"R-23i Screen 3","seg":"e","date":"2010-08-26","v":6074.55},
{"series":"R-23i Screen 3","seg":"e","date":"2010-09-04","v":6074.4},
{"series":"R-23i Screen 3","seg":"e","date":"2010-09-14","v":6074.3},
{"series":"R-23i Screen 3","seg":"e","date":"2010-09-23","v":6074.1},
{"series":"R-23i Screen 3","seg":"e","date":"2010-10-02","v":6073.7},
{"series":"R-23i Screen 3","seg":"e","date":"2010-10-12","v":6073.1},
{"series":"R-23i Screen 3","seg":"e","date":"2010-10-21","v":6072.6},
{"series":"R-23i Screen 3","seg":"e","date":"2010-10-31","v":6072.3},
{"series":"R-23i Screen 3","seg":"e","date":"2010-11-09","v":6072.1},
{"series":"R-23i Screen 3","seg":"e","date":"2010-11-18","v":6072.0},
{"series":"R-23i Screen 3","seg":"e","date":"2010-11-28","v":6071.95},
{"series":"R-23i Screen 3","seg":"e","date":"2010-12-07","v":6072.2},
{"series":"R-23i Screen 3","seg":"e","date":"2010-12-12","v":6071.8},
{"series":"R-23i Screen 3","seg":"e","date":"2010-12-16","v":6071.65},
{"series":"R-23i Screen 3","seg":"e","date":"2010-12-26","v":6071.55},
{"series":"R-23i Screen 3","seg":"e","date":"2011-01-04","v":6071.4},
{"series":"R-23i Screen 3","seg":"e","date":"2011-01-14","v":6071.3},
{"series":"R-23i Screen 3","seg":"e","date":"2011-01-23","v":6071.1},
{"series":"R-23i Screen 3","seg":"e","date":"2011-01-27","v":6071.0},
{"series":"R-23i Screen 2","seg":"a","date":"2006-12-14","v":6078.8},
{"series":"R-23i Screen 2","seg":"a","date":"2006-12-19","v":6079.2},
{"series":"R-23i Screen 2","seg":"a","date":"2006-12-23","v":6078.7},
{"series":"R-23i Screen 2","seg":"a","date":"2006-12-28","v":6079.3},
{"series":"R-23i Screen 2","seg":"a","date":"2007-01-02","v":6078.9},
{"series":"R-23i Screen 2","seg":"a","date":"2007-01-07","v":6079.35},
{"series":"R-23i Screen 2","seg":"a","date":"2007-01-11","v":6078.75},
{"series":"R-23i Screen 2","seg":"a","date":"2007-01-16","v":6079.2},
{"series":"R-23i Screen 2","seg":"a","date":"2007-01-20","v":6078.85},
{"series":"R-23i Screen 2","seg":"a","date":"2007-01-25","v":6079.3},
{"series":"R-23i Screen 2","seg":"a","date":"2007-01-30","v":6078.75},
{"series":"R-23i Screen 2","seg":"a","date":"2007-02-04","v":6079.15},
{"series":"R-23i Screen 2","seg":"a","date":"2007-02-08","v":6078.8},
{"series":"R-23i Screen 2","seg":"a","date":"2007-02-13","v":6079.35},
{"series":"R-23i Screen 2","seg":"a","date":"2007-02-17","v":6078.7},
{"series":"R-23i Screen 2","seg":"a","date":"2007-02-22","v":6078.95},
{"series":"R-23i Screen 2","seg":"a","date":"2007-02-27","v":6078.55},
{"series":"R-23i Screen 2","seg":"a","date":"2007-03-04","v":6078.7},
{"series":"R-23i Screen 2","seg":"a","date":"2007-03-08","v":6078.5},
{"series":"R-23i Screen 2","seg":"a","date":"2007-03-13","v":6078.85},
{"series":"R-23i Screen 2","seg":"a","date":"2007-03-18","v":6078.55},
{"series":"R-23i Screen 2","seg":"a","date":"2007-03-22","v":6078.9},
{"series":"R-23i Screen 2","seg":"a","date":"2007-03-27","v":6078.6},
{"series":"R-23i Screen 2","seg":"a","date":"2007-04-01","v":6078.85},
{"series":"R-23i Screen 2","seg":"a","date":"2007-04-05","v":6078.55},
{"series":"R-23i Screen 2","seg":"a","date":"2007-04-10","v":6078.75},
{"series":"R-23i Screen 2","seg":"a","date":"2007-04-15","v":6078.45},
{"series":"R-23i Screen 2","seg":"a","date":"2007-04-20","v":6078.7},
{"series":"R-23i Screen 2","seg":"a","date":"2007-04-24","v":6078.3},
{"series":"R-23i Screen 2","seg":"a","date":"2007-04-28","v":6078.6},
{"series":"R-23i Screen 2","seg":"a","date":"2007-05-03","v":6078.75},
{"series":"R-23i Screen 2","seg":"a","date":"2007-05-08","v":6078.45},
{"series":"R-23i Screen 2","seg":"a","date":"2007-05-13","v":6078.55},
{"series":"R-23i Screen 2","seg":"a","date":"2007-05-18","v":6078.35},
{"series":"R-23i Screen 2","seg":"a","date":"2007-05-22","v":6078.45},
{"series":"R-23i Screen 2","seg":"a","date":"2007-05-27","v":6078.25},
{"series":"R-23i Screen 2","seg":"a","date":"2007-06-01","v":6078.3},
{"series":"R-23i Screen 2","seg":"a","date":"2007-06-06","v":6078.1},
{"series":"R-23i Screen 2","seg":"a","date":"2007-06-08","v":6078.75},
{"series":"R-23i Screen 2","seg":"a","date":"2007-06-10","v":6078.15},
{"series":"R-23i Screen 2","seg":"a","date":"2007-06-15","v":6078.0},
{"series":"R-23i Screen 2","seg":"a","date":"2007-06-19","v":6077.95},
{"series":"R-23i Screen 2","seg":"a","date":"2007-06-22","v":6077.55},
{"series":"R-23i Screen 2","seg":"a","date":"2007-06-24","v":6078.05},
{"series":"R-23i Screen 2","seg":"a","date":"2007-06-29","v":6077.85},
{"series":"R-23i Screen 2","seg":"a","date":"2007-07-04","v":6078.0},
{"series":"R-23i Screen 2","seg":"a","date":"2007-07-08","v":6077.8},
{"series":"R-23i Screen 2","seg":"a","date":"2007-07-13","v":6077.95},
{"series":"R-23i Screen 2","seg":"a","date":"2007-07-18","v":6078.2},
{"series":"R-23i Screen 2","seg":"a","date":"2007-07-22","v":6077.8},
{"series":"R-23i Screen 2","seg":"a","date":"2007-07-27","v":6077.95},
{"series":"R-23i Screen 2","seg":"a","date":"2007-08-01","v":6077.75},
{"series":"R-23i Screen 2","seg":"a","date":"2007-08-05","v":6077.9},
{"series":"R-23i Screen 2","seg":"a","date":"2007-08-10","v":6077.7},
{"series":"R-23i Screen 2","seg":"a","date":"2007-08-15","v":6077.85},
{"series":"R-23i Screen 2","seg":"a","date":"2007-08-20","v":6077.75},
{"series":"R-23i Screen 2","seg":"a","date":"2007-08-24","v":6078.15},
{"series":"R-23i Screen 2","seg":"a","date":"2007-08-29","v":6077.8},
{"series":"R-23i Screen 2","seg":"a","date":"2007-09-02","v":6077.7},
{"series":"R-23i Screen 2","seg":"a","date":"2007-09-07","v":6077.9},
{"series":"R-23i Screen 2","seg":"a","date":"2007-09-12","v":6077.65},
{"series":"R-23i Screen 2","seg":"a","date":"2007-09-17","v":6077.8},
{"series":"R-23i Screen 2","seg":"a","date":"2007-09-21","v":6077.6},
{"series":"R-23i Screen 2","seg":"a","date":"2007-09-26","v":6077.75},
{"series":"R-23i Screen 2","seg":"a","date":"2007-10-01","v":6077.6},
{"series":"R-23i Screen 2","seg":"a","date":"2007-10-05","v":6077.8},
{"series":"R-23i Screen 2","seg":"a","date":"2007-10-10","v":6078.2},
{"series":"R-23i Screen 2","seg":"a","date":"2007-10-14","v":6077.7},
{"series":"R-23i Screen 2","seg":"a","date":"2007-10-19","v":6077.65},
{"series":"R-23i Screen 2","seg":"a","date":"2007-10-24","v":6077.8},
{"series":"R-23i Screen 2","seg":"a","date":"2007-10-29","v":6077.55},
{"series":"R-23i Screen 2","seg":"a","date":"2007-11-03","v":6077.7},
{"series":"R-23i Screen 2","seg":"a","date":"2007-11-07","v":6077.6},
{"series":"R-23i Screen 2","seg":"a","date":"2007-11-12","v":6077.85},
{"series":"R-23i Screen 2","seg":"a","date":"2007-11-17","v":6077.65},
{"series":"R-23i Screen 2","seg":"a","date":"2007-11-21","v":6077.8},
{"series":"R-23i Screen 2","seg":"a","date":"2007-11-26","v":6077.9},
{"series":"R-23i Screen 2","seg":"a","date":"2007-12-01","v":6077.6},
{"series":"R-23i Screen 2","seg":"a","date":"2007-12-05","v":6077.75},
{"series":"R-23i Screen 2","seg":"a","date":"2007-12-10","v":6078.1},
{"series":"R-23i Screen 2","seg":"a","date":"2007-12-15","v":6077.55},
{"series":"R-23i Screen 2","seg":"a","date":"2007-12-17","v":6077.3},
{"series":"R-23i Screen 2","seg":"a","date":"2007-12-19","v":6077.6},
{"series":"R-23i Screen 2","seg":"a","date":"2007-12-24","v":6077.75},
{"series":"R-23i Screen 2","seg":"a","date":"2007-12-29","v":6077.5},
{"series":"R-23i Screen 2","seg":"a","date":"2008-01-03","v":6077.7},
{"series":"R-23i Screen 2","seg":"a","date":"2008-01-08","v":6077.5},
{"series":"R-23i Screen 2","seg":"a","date":"2008-01-12","v":6077.65},
{"series":"R-23i Screen 2","seg":"a","date":"2008-01-17","v":6077.45},
{"series":"R-23i Screen 2","seg":"a","date":"2008-01-21","v":6077.7},
{"series":"R-23i Screen 2","seg":"a","date":"2008-01-26","v":6077.55},
{"series":"R-23i Screen 2","seg":"a","date":"2008-01-31","v":6077.8},
{"series":"R-23i Screen 2","seg":"a","date":"2008-02-04","v":6077.5},
{"series":"R-23i Screen 2","seg":"a","date":"2008-02-09","v":6077.75},
{"series":"R-23i Screen 2","seg":"a","date":"2008-02-14","v":6077.45},
{"series":"R-23i Screen 2","seg":"a","date":"2008-02-18","v":6077.6},
{"series":"R-23i Screen 2","seg":"a","date":"2008-02-23","v":6077.4},
{"series":"R-23i Screen 2","seg":"a","date":"2008-02-28","v":6077.55},
{"series":"R-23i Screen 2","seg":"a","date":"2008-03-04","v":6077.35},
{"series":"R-23i Screen 2","seg":"a","date":"2008-03-08","v":6077.6},
{"series":"R-23i Screen 2","seg":"a","date":"2008-03-13","v":6077.4},
{"series":"R-23i Screen 2","seg":"a","date":"2008-03-18","v":6077.5},
{"series":"R-23i Screen 2","seg":"a","date":"2008-03-22","v":6077.3},
{"series":"R-23i Screen 2","seg":"a","date":"2008-03-27","v":6077.45},
{"series":"R-23i Screen 2","seg":"a","date":"2008-04-01","v":6077.35},
{"series":"R-23i Screen 2","seg":"a","date":"2008-04-05","v":6077.25},
{"series":"R-23i Screen 2","seg":"a","date":"2008-04-10","v":6077.6},
{"series":"R-23i Screen 2","seg":"a","date":"2008-04-15","v":6077.5},
{"series":"R-23i Screen 2","seg":"a","date":"2008-04-19","v":6077.8},
{"series":"R-23i Screen 2","seg":"a","date":"2008-04-24","v":6077.6},
{"series":"R-23i Screen 2","seg":"a","date":"2008-04-28","v":6078.15},
{"series":"R-23i Screen 2","seg":"a","date":"2008-05-03","v":6077.7},
{"series":"R-23i Screen 2","seg":"a","date":"2008-05-08","v":6077.95},
{"series":"R-23i Screen 2","seg":"a","date":"2008-05-13","v":6077.7},
{"series":"R-23i Screen 2","seg":"a","date":"2008-05-17","v":6078.35},
{"series":"R-23i Screen 2","seg":"a","date":"2008-05-22","v":6078.1},
{"series":"R-23i Screen 2","seg":"a","date":"2008-05-27","v":6078.45},
{"series":"R-23i Screen 2","seg":"a","date":"2008-06-01","v":6078.3},
{"series":"R-23i Screen 2","seg":"a","date":"2008-06-05","v":6078.6},
{"series":"R-23i Screen 2","seg":"a","date":"2008-06-10","v":6078.4},
{"series":"R-23i Screen 2","seg":"a","date":"2008-06-15","v":6078.75},
{"series":"R-23i Screen 2","seg":"a","date":"2008-06-19","v":6078.55},
{"series":"R-23i Screen 2","seg":"a","date":"2008-06-24","v":6078.85},
{"series":"R-23i Screen 2","seg":"a","date":"2008-06-29","v":6078.65},
{"series":"R-23i Screen 2","seg":"a","date":"2008-07-04","v":6078.95},
{"series":"R-23i Screen 2","seg":"a","date":"2008-07-08","v":6078.75},
{"series":"R-23i Screen 2","seg":"a","date":"2008-07-13","v":6079.0},
{"series":"R-23i Screen 2","seg":"a","date":"2008-07-17","v":6078.8},
{"series":"R-23i Screen 2","seg":"a","date":"2008-07-22","v":6079.1},
{"series":"R-23i Screen 2","seg":"a","date":"2008-07-27","v":6078.85},
{"series":"R-23i Screen 2","seg":"a","date":"2008-08-01","v":6079.1},
{"series":"R-23i Screen 2","seg":"a","date":"2008-08-05","v":6078.9},
{"series":"R-23i Screen 2","seg":"a","date":"2008-08-10","v":6079.2},
{"series":"R-23i Screen 2","seg":"a","date":"2008-08-15","v":6078.95},
{"series":"R-23i Screen 2","seg":"a","date":"2008-08-20","v":6079.25},
{"series":"R-23i Screen 2","seg":"a","date":"2008-08-24","v":6078.9},
{"series":"R-23i Screen 2","seg":"a","date":"2008-08-29","v":6079.2},
{"series":"R-23i Screen 2","seg":"a","date":"2008-09-02","v":6079.0},
{"series":"R-23i Screen 2","seg":"a","date":"2008-09-07","v":6078.7},
{"series":"R-23i Screen 2","seg":"a","date":"2008-09-10","v":6078.05},
{"series":"R-23i Screen 2","seg":"a","date":"2008-09-12","v":6078.75},
{"series":"R-23i Screen 2","seg":"a","date":"2008-09-16","v":6079.2},
{"series":"R-23i Screen 2","seg":"a","date":"2008-09-21","v":6078.8},
{"series":"R-23i Screen 2","seg":"a","date":"2008-09-26","v":6079.1},
{"series":"R-23i Screen 2","seg":"a","date":"2008-10-01","v":6078.85},
{"series":"R-23i Screen 2","seg":"a","date":"2008-10-06","v":6079.3},
{"series":"R-23i Screen 2","seg":"a","date":"2008-10-10","v":6078.95},
{"series":"R-23i Screen 2","seg":"a","date":"2008-10-15","v":6079.25},
{"series":"R-23i Screen 2","seg":"a","date":"2008-10-19","v":6078.8},
{"series":"R-23i Screen 2","seg":"a","date":"2008-10-24","v":6079.1},
{"series":"R-23i Screen 2","seg":"a","date":"2008-10-29","v":6078.9},
{"series":"R-23i Screen 2","seg":"a","date":"2008-11-02","v":6079.35},
{"series":"R-23i Screen 2","seg":"a","date":"2008-11-05","v":6078.6},
{"series":"R-23i Screen 2","seg":"a","date":"2008-11-07","v":6079.1},
{"series":"R-23i Screen 2","seg":"a","date":"2008-11-12","v":6079.55},
{"series":"R-23i Screen 2","seg":"a","date":"2008-11-16","v":6079.1},
{"series":"R-23i Screen 2","seg":"a","date":"2008-11-21","v":6079.4},
{"series":"R-23i Screen 2","seg":"a","date":"2008-11-26","v":6079.0},
{"series":"R-23i Screen 2","seg":"a","date":"2008-12-01","v":6079.3},
{"series":"R-23i Screen 2","seg":"a","date":"2008-12-05","v":6079.05},
{"series":"R-23i Screen 2","seg":"a","date":"2008-12-10","v":6079.45},
{"series":"R-23i Screen 2","seg":"a","date":"2008-12-15","v":6079.15},
{"series":"R-23i Screen 2","seg":"a","date":"2008-12-19","v":6079.55},
{"series":"R-23i Screen 2","seg":"a","date":"2008-12-24","v":6079.05},
{"series":"R-23i Screen 2","seg":"a","date":"2008-12-29","v":6079.35},
{"series":"R-23i Screen 2","seg":"a","date":"2009-01-02","v":6078.95},
{"series":"R-23i Screen 2","seg":"a","date":"2009-01-07","v":6079.25},
{"series":"R-23i Screen 2","seg":"a","date":"2009-01-12","v":6079.0},
{"series":"R-23i Screen 2","seg":"a","date":"2009-01-16","v":6079.5},
{"series":"R-23i Screen 2","seg":"a","date":"2009-01-21","v":6079.1},
{"series":"R-23i Screen 2","seg":"a","date":"2009-01-26","v":6079.35},
{"series":"R-23i Screen 2","seg":"a","date":"2009-01-31","v":6078.95},
{"series":"R-23i Screen 2","seg":"a","date":"2009-02-02","v":6078.4},
{"series":"R-23i Screen 2","seg":"a","date":"2009-02-05","v":6079.1},
{"series":"R-23i Screen 2","seg":"a","date":"2009-02-09","v":6079.4},
{"series":"R-23i Screen 2","seg":"a","date":"2009-02-14","v":6079.15},
{"series":"R-23i Screen 2","seg":"a","date":"2009-02-18","v":6079.5},
{"series":"R-23i Screen 2","seg":"a","date":"2009-02-23","v":6079.2},
{"series":"R-23i Screen 2","seg":"a","date":"2009-02-28","v":6079.6},
{"series":"R-23i Screen 2","seg":"a","date":"2009-03-04","v":6079.3},
{"series":"R-23i Screen 2","seg":"a","date":"2009-03-09","v":6079.7},
{"series":"R-23i Screen 2","seg":"a","date":"2009-03-13","v":6079.4},
{"series":"R-23i Screen 2","seg":"a","date":"2009-03-18","v":6079.55},
{"series":"R-23i Screen 2","seg":"a","date":"2009-03-23","v":6079.3},
{"series":"R-23i Screen 2","seg":"a","date":"2009-03-28","v":6079.5},
{"series":"R-23i Screen 2","seg":"a","date":"2009-04-01","v":6079.35},
{"series":"R-23i Screen 2","seg":"a","date":"2009-04-06","v":6079.45},
{"series":"R-23i Screen 2","seg":"a","date":"2009-04-11","v":6079.2},
{"series":"R-23i Screen 2","seg":"a","date":"2009-04-16","v":6079.35},
{"series":"R-23i Screen 2","seg":"a","date":"2009-04-20","v":6079.15},
{"series":"R-23i Screen 2","seg":"a","date":"2009-04-25","v":6079.3},
{"series":"R-23i Screen 2","seg":"a","date":"2009-04-30","v":6079.1},
{"series":"R-23i Screen 2","seg":"a","date":"2009-05-04","v":6079.25},
{"series":"R-23i Screen 2","seg":"a","date":"2009-05-09","v":6079.05},
{"series":"R-23i Screen 2","seg":"a","date":"2009-05-14","v":6079.2},
{"series":"R-23i Screen 2","seg":"a","date":"2009-05-18","v":6079.0},
{"series":"R-23i Screen 2","seg":"a","date":"2009-05-23","v":6079.15},
{"series":"R-23i Screen 2","seg":"a","date":"2009-05-28","v":6079.05},
{"series":"R-23i Screen 2","seg":"a","date":"2009-06-02","v":6079.2},
{"series":"R-23i Screen 2","seg":"a","date":"2009-06-04","v":6078.3},
{"series":"R-23i Screen 2","seg":"a","date":"2009-06-06","v":6079.05},
{"series":"R-23i Screen 2","seg":"a","date":"2009-06-11","v":6079.15},
{"series":"R-23i Screen 2","seg":"a","date":"2009-06-15","v":6079.2},
{"series":"R-23i Screen 2","seg":"b","date":"2009-08-29","v":6078.8},
{"series":"R-23i Screen 2","seg":"b","date":"2009-09-03","v":6079.0},
{"series":"R-23i Screen 2","seg":"b","date":"2009-09-08","v":6078.35},
{"series":"R-23i Screen 2","seg":"b","date":"2009-09-15","v":6078.7},
{"series":"R-23i Screen 2","seg":"b","date":"2009-09-22","v":6078.6},
{"series":"R-23i Screen 2","seg":"c","date":"2009-10-11","v":6078.2},
{"series":"R-23i Screen 2","seg":"c","date":"2009-10-17","v":6078.6},
{"series":"R-23i Screen 2","seg":"c","date":"2009-10-24","v":6079.1},
{"series":"R-23i Screen 2","seg":"c","date":"2009-10-28","v":6078.7},
{"series":"R-23i Screen 2","seg":"c","date":"2009-11-02","v":6078.45},
{"series":"R-23i Screen 2","seg":"c","date":"2009-11-08","v":6078.75},
{"series":"R-23i Screen 2","seg":"c","date":"2009-11-14","v":6078.7},
{"series":"R-23i Screen 2","seg":"c","date":"2009-11-20","v":6078.55},
{"series":"R-23i Screen 2","seg":"c","date":"2009-11-27","v":6078.4},
{"series":"R-23i Screen 2","seg":"c","date":"2009-12-02","v":6078.1},
{"series":"R-23i Screen 2","seg":"c","date":"2009-12-06","v":6078.8},
{"series":"R-23i Screen 2","seg":"d","date":"2010-02-27","v":6077.65},
{"series":"R-23i Screen 2","seg":"d","date":"2010-03-01","v":6076.6},
{"series":"R-23i Screen 2","seg":"d","date":"2010-03-04","v":6076.95},
{"series":"R-23i Screen 2","seg":"d","date":"2010-03-08","v":6076.7},
{"series":"R-23i Screen 2","seg":"d","date":"2010-03-12","v":6077.05},
{"series":"R-23i Screen 2","seg":"d","date":"2010-03-17","v":6076.75},
{"series":"R-23i Screen 2","seg":"d","date":"2010-03-21","v":6077.0},
{"series":"R-23i Screen 2","seg":"d","date":"2010-03-26","v":6076.7},
{"series":"R-23i Screen 2","seg":"d","date":"2010-03-31","v":6076.9},
{"series":"R-23i Screen 2","seg":"d","date":"2010-04-04","v":6076.65},
{"series":"R-23i Screen 2","seg":"d","date":"2010-04-09","v":6077.05},
{"series":"R-23i Screen 2","seg":"d","date":"2010-04-14","v":6076.8},
{"series":"R-23i Screen 2","seg":"d","date":"2010-04-18","v":6077.1},
{"series":"R-23i Screen 2","seg":"d","date":"2010-04-23","v":6076.85},
{"series":"R-23i Screen 2","seg":"d","date":"2010-04-28","v":6077.0},
{"series":"R-23i Screen 2","seg":"d","date":"2010-05-03","v":6076.75},
{"series":"R-23i Screen 2","seg":"d","date":"2010-05-08","v":6076.95},
{"series":"R-23i Screen 2","seg":"d","date":"2010-05-13","v":6076.65},
{"series":"R-23i Screen 2","seg":"d","date":"2010-05-17","v":6076.8},
{"series":"R-23i Screen 2","seg":"d","date":"2010-05-22","v":6076.55},
{"series":"R-23i Screen 2","seg":"d","date":"2010-05-27","v":6076.7},
{"series":"R-23i Screen 2","seg":"d","date":"2010-06-01","v":6076.45},
{"series":"R-23i Screen 2","seg":"d","date":"2010-06-06","v":6076.55},
{"series":"R-23i Screen 2","seg":"d","date":"2010-06-11","v":6076.3},
{"series":"R-23i Screen 2","seg":"d","date":"2010-06-15","v":6076.4},
{"series":"R-23i Screen 2","seg":"d","date":"2010-06-17","v":6075.85},
{"series":"R-23i Screen 2","seg":"d","date":"2010-06-21","v":6076.05},
{"series":"R-23i Screen 2","seg":"d","date":"2010-06-26","v":6075.85},
{"series":"R-23i Screen 2","seg":"d","date":"2010-07-01","v":6076.05},
{"series":"R-23i Screen 2","seg":"d","date":"2010-07-06","v":6075.8},
{"series":"R-23i Screen 2","seg":"d","date":"2010-07-10","v":6075.95},
{"series":"R-23i Screen 2","seg":"d","date":"2010-07-15","v":6075.75},
{"series":"R-23i Screen 2","seg":"d","date":"2010-07-20","v":6075.95},
{"series":"R-23i Screen 2","seg":"d","date":"2010-07-25","v":6075.7},
{"series":"R-23i Screen 2","seg":"d","date":"2010-07-29","v":6075.85},
{"series":"R-23i Screen 2","seg":"d","date":"2010-07-31","v":6072.8},
{"series":"R-23i Screen 2","seg":"d","date":"2010-08-02","v":6075.8},
{"series":"R-23i Screen 2","seg":"d","date":"2010-08-07","v":6075.65},
{"series":"R-23i Screen 2","seg":"d","date":"2010-08-12","v":6075.9},
{"series":"R-23i Screen 2","seg":"d","date":"2010-08-17","v":6075.6},
{"series":"R-23i Screen 2","seg":"d","date":"2010-08-21","v":6075.8},
{"series":"R-23i Screen 2","seg":"d","date":"2010-08-26","v":6075.6},
{"series":"R-23i Screen 2","seg":"d","date":"2010-08-31","v":6075.85},
{"series":"R-23i Screen 2","seg":"d","date":"2010-09-04","v":6075.55},
{"series":"R-23i Screen 2","seg":"d","date":"2010-09-09","v":6075.75},
{"series":"R-23i Screen 2","seg":"d","date":"2010-09-14","v":6075.6},
{"series":"R-23i Screen 2","seg":"d","date":"2010-09-19","v":6075.8},
{"series":"R-23i Screen 2","seg":"d","date":"2010-09-23","v":6075.55},
{"series":"R-23i Screen 2","seg":"d","date":"2010-09-28","v":6075.7},
{"series":"R-23i Screen 2","seg":"d","date":"2010-10-02","v":6075.5},
{"series":"R-23i Screen 2","seg":"d","date":"2010-10-07","v":6075.75},
{"series":"R-23i Screen 2","seg":"d","date":"2010-10-11","v":6075.6},
{"series":"R-23i Screen 2","seg":"d","date":"2010-10-12","v":6068.2},
{"series":"R-23i Screen 2","seg":"d","date":"2010-10-14","v":6075.7},
{"series":"R-23i Screen 2","seg":"d","date":"2010-10-19","v":6075.55},
{"series":"R-23i Screen 2","seg":"d","date":"2010-10-21","v":6076.2},
{"series":"R-23i Screen 2","seg":"d","date":"2010-10-24","v":6075.6},
{"series":"R-23i Screen 2","seg":"d","date":"2010-10-29","v":6075.75},
{"series":"R-23i Screen 2","seg":"d","date":"2010-11-02","v":6075.5},
{"series":"R-23i Screen 2","seg":"d","date":"2010-11-07","v":6075.7},
{"series":"R-23i Screen 2","seg":"d","date":"2010-11-11","v":6075.45},
{"series":"R-23i Screen 2","seg":"d","date":"2010-11-16","v":6075.65},
{"series":"R-23i Screen 2","seg":"d","date":"2010-11-21","v":6075.4},
{"series":"R-23i Screen 2","seg":"d","date":"2010-11-25","v":6075.6},
{"series":"R-23i Screen 2","seg":"d","date":"2010-11-30","v":6075.45},
{"series":"R-23i Screen 2","seg":"d","date":"2010-12-05","v":6075.6},
{"series":"R-23i Screen 2","seg":"d","date":"2010-12-10","v":6075.35},
{"series":"R-23i Screen 2","seg":"d","date":"2010-12-15","v":6075.55},
{"series":"R-23i Screen 2","seg":"d","date":"2010-12-17","v":6076.3},
{"series":"R-23i Screen 2","seg":"d","date":"2010-12-19","v":6075.4},
{"series":"R-23i Screen 2","seg":"d","date":"2010-12-24","v":6075.5},
{"series":"R-23i Screen 2","seg":"d","date":"2010-12-29","v":6075.25},
{"series":"R-23i Screen 2","seg":"d","date":"2011-01-03","v":6075.4},
{"series":"R-23i Screen 2","seg":"d","date":"2011-01-08","v":6075.15},
{"series":"R-23i Screen 2","seg":"d","date":"2011-01-13","v":6075.3},
{"series":"R-23i Screen 2","seg":"d","date":"2011-01-18","v":6075.05},
{"series":"R-23i Screen 2","seg":"d","date":"2011-01-23","v":6075.2},
{"series":"R-23i Screen 2","seg":"d","date":"2011-01-27","v":6074.95}
],
"boxes": [
{"date":"2007-01-11","date2":"2007-07-03","v":6081.55,"v2":6080.37},
{"date":"2008-02-24","date2":"2009-02-05","v":6075.52,"v2":6074.0},
{"date":"2008-11-28","date2":"2009-07-16","v":6068.91,"v2":6067.21}
],
"ptrArea": [
{"c":"s2","date":"2007-02-14","v":6080.37,"v2":6080.47},
{"c":"s2","date":"2007-03-08","v":6079.48,"v2":6080.47},
{"c":"s2","date":"2007-03-31","v":6080.37,"v2":6080.47},
{"c":"r12","date":"2008-09-27","v":6074.0,"v2":6074.1},
{"c":"r12","date":"2008-11-07","v":6073.35,"v2":6074.1},
{"c":"r12","date":"2008-12-11","v":6074.0,"v2":6074.1},
{"c":"s3","date":"2009-01-08","v":6069.86,"v2":6068.81},
{"c":"s3","date":"2009-03-04","v":6068.91,"v2":6068.81}
],
"ptrLine": [
{"c":"s2","i":1,"date":"2007-02-14","v":6080.37},
{"c":"s2","i":2,"date":"2007-03-08","v":6079.48},
{"c":"s2","i":3,"date":"2007-03-31","v":6080.37},
{"c":"r12","i":1,"date":"2008-09-27","v":6074.0},
{"c":"r12","i":2,"date":"2008-11-07","v":6073.35},
{"c":"r12","i":3,"date":"2008-12-11","v":6074.0},
{"c":"s3","i":1,"date":"2009-01-08","v":6068.91},
{"c":"s3","i":2,"date":"2009-01-08","v":6069.86},
{"c":"s3","i":3,"date":"2009-03-04","v":6068.91}
],
"lbl": [
{"date":"2007-04-07","v":6080.98,"t":"R-23i S2"},
{"date":"2008-08-15","v":6074.78,"t":"R-12 Screens 1 & 2"},
{"date":"2009-03-23","v":6068.08,"t":"R-23i S3"}
]
},
"encoding": {
  "x": {"field": "date", "type": "temporal",
    "scale": {"type": "utc", "domain": [{"year": 2006, "month": 4, "date": 1, "utc": true}, {"year": 2011, "month": 1, "date": 31, "utc": true}]},
    "axis": {"values": [
      {"year": 2006, "month": 4, "date": 1, "utc": true},
      {"year": 2006, "month": 9, "date": 30, "utc": true},
      {"year": 2007, "month": 4, "date": 1, "utc": true},
      {"year": 2007, "month": 9, "date": 30, "utc": true},
      {"year": 2008, "month": 3, "date": 31, "utc": true},
      {"year": 2008, "month": 9, "date": 30, "utc": true},
      {"year": 2009, "month": 3, "date": 31, "utc": true},
      {"year": 2009, "month": 9, "date": 30, "utc": true},
      {"year": 2010, "month": 4, "date": 1, "utc": true},
      {"year": 2010, "month": 9, "date": 30, "utc": true}],
      "labelExpr": "(utcmonth(datum.value) + 1) + '/' + utcdate(datum.value) + '/' + utcFormat(datum.value, '%y')",
      "labelFlush": false, "labelOverlap": false,
      "title": "Date", "titlePadding": 18, "labelPadding": 18, "tickSize": 6, "grid": true, "gridDash": [4, 3]}}
},
"layer": [
  {"data": {"name": "ro"},
   "mark": {"type": "line", "color": "black", "strokeWidth": 1, "clip": true},
   "encoding": {
     "y": {"field": "v", "type": "quantitative", "scale": {"domain": [0, 14], "nice": false},
       "axis": {"orient": "right", "values": [0, 2, 4, 6, 8, 10, 12, 14], "grid": false, "title": "Runoff MD (cfs)", "titleAngle": 270, "titleBaseline": "top", "titleY": 222, "tickSize": 8, "labelPadding": 14, "titlePadding": 12}},
     "detail": {"field": "series"}}},
  {"encoding": {
     "y": {"field": "v", "type": "quantitative", "scale": {"domain": [6066, 6082], "nice": false, "zero": false},
       "axis": {"orient": "left", "values": [6066, 6068, 6070, 6072, 6074, 6076, 6078, 6080, 6082], "format": "d", "grid": true, "tickSize": 6, "labelPadding": 14, "title": "Groundwater Elevation (ft)", "titlePadding": 9}}},
   "layer": [
     {"data": {"name": "gw"}, "transform": [{"filter": "datum.series === 'R-23i Screen 3'"}],
      "mark": {"type": "line", "color": "#4a4a4a", "strokeWidth": 6.5, "strokeJoin": "round", "strokeCap": "round"},
      "encoding": {"detail": {"field": "seg"}}},
     {"data": {"name": "gw"}, "transform": [{"filter": "datum.series === 'R-23i Screen 2'"}],
      "mark": {"type": "line", "color": "#555555", "strokeWidth": 3.8, "strokeJoin": "round", "strokeCap": "round"},
      "encoding": {"detail": {"field": "seg"}}},
     {"data": {"name": "gw"}, "transform": [{"filter": "datum.series === 'R-23i Screen 3'"}],
      "mark": {"type": "line", "strokeWidth": 3.8, "strokeJoin": "round", "strokeCap": "round"},
      "encoding": {
        "color": {"field": "series", "type": "nominal",
          "scale": {"domain": ["R-12 Screen 1", "R-12 Screen 2", "R-23i Screen 2", "R-23i Screen 3", "E042 MD cfs", "E250 MD cfs"], "range": ["black", "black", "#b4b4b4", "#a2a2a2", "black", "black"]},
          "legend": {"orient": "none", "legendX": 361, "legendY": -90, "columns": 3, "direction": "horizontal", "title": null, "labelExpr": "datum.label + '\u00a0\u00a0\u00a0'"}},
        "detail": {"field": "seg"}}},
     {"data": {"name": "gw"}, "transform": [{"filter": "datum.series === 'R-23i Screen 2'"}],
      "mark": {"type": "line", "strokeWidth": 1.8, "strokeJoin": "round", "strokeCap": "round"},
      "encoding": {
        "color": {"field": "series", "type": "nominal",
          "scale": {"domain": ["R-12 Screen 1", "R-12 Screen 2", "R-23i Screen 2", "R-23i Screen 3", "E042 MD cfs", "E250 MD cfs"], "range": ["black", "black", "#b4b4b4", "#a2a2a2", "black", "black"]},
          "legend": {"orient": "none", "legendX": 361, "legendY": -90, "columns": 3, "direction": "horizontal", "title": null, "labelExpr": "datum.label + '\u00a0\u00a0\u00a0'"}},
        "detail": {"field": "seg"}}},
     {"data": {"name": "gw"}, "transform": [{"filter": "datum.series === 'R-12 Screen 1' || datum.series === 'R-12 Screen 2'"}],
      "mark": {"type": "line", "strokeWidth": 1.2, "strokeJoin": "round"},
      "encoding": {
        "color": {"field": "series", "type": "nominal",
          "scale": {"domain": ["R-12 Screen 1", "R-12 Screen 2", "R-23i Screen 2", "R-23i Screen 3", "E042 MD cfs", "E250 MD cfs"], "range": ["black", "black", "#b4b4b4", "#a2a2a2", "black", "black"]},
          "legend": {"orient": "none", "legendX": 361, "legendY": -90, "columns": 3, "direction": "horizontal", "title": null, "labelExpr": "datum.label + '\u00a0\u00a0\u00a0'"}},
        "detail": {"field": "seg"}}},
     {"data": {"name": "boxes"},
      "mark": {"type": "rect", "fill": "white", "stroke": "black", "strokeWidth": 2},
      "encoding": {"x2": {"field": "date2"}, "y2": {"field": "v2"}}},
     {"data": {"name": "ptrArea"},
      "mark": {"type": "area", "fill": "white"},
      "encoding": {"y2": {"field": "v2"}, "detail": {"field": "c"}}},
     {"data": {"name": "ptrLine"},
      "mark": {"type": "line", "color": "black", "strokeWidth": 2},
      "encoding": {"detail": {"field": "c"}, "order": {"field": "i"}}},
     {"data": {"name": "lbl"},
      "mark": {"type": "text", "font": "Lato", "fontSize": 18, "color": "black", "align": "center", "baseline": "middle"},
      "encoding": {"text": {"field": "t"}}}
   ]}
],
"resolve": {"scale": {"y": "independent"}}
}
